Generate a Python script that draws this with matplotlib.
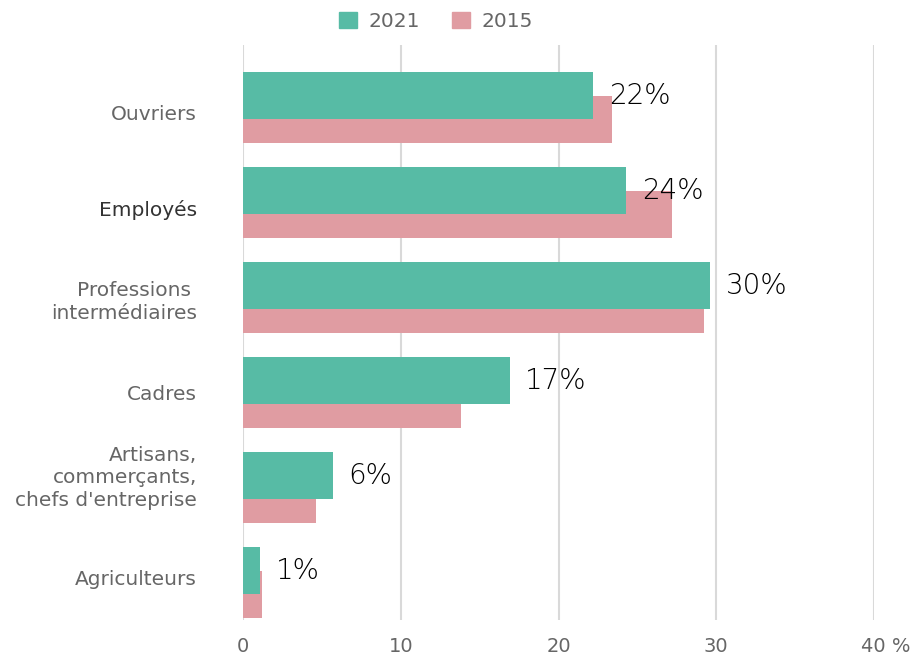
import matplotlib.pyplot as plt
from matplotlib.patches import Patch
from matplotlib.transforms import ScaledTranslation
import numpy as np

# Daten
categories = ["Ouvriers", "Employés", "Professions \nintermédiaires", "Cadres",
              "Artisans,\ncommerçants,\nchefs d'entreprise", "Agriculteurs"]
values_2021 = [22.2, 24.3, 29.6, 16.9, 5.7, 1.1]
values_2015 = [23.4, 27.2, 29.2, 13.8, 4.6, 1.2]
labels_2021 = ["22%", "24%", "30%", "17%", "6%", "1%"]
x_ticks = [0, 10, 20, 30, 40]
x_ticklabels = ["0", "10", "20", "30", "40 %"]

green = "#57BBA5"
pink = "#E09CA2"
grey = "#666666"

fig = plt.figure(figsize=(9.21, 6.61), dpi=100)
ax = fig.add_axes([243 / 921, 41 / 661, (874 - 243) / 921, (616 - 41) / 661])

y = np.arange(len(categories))
h = 0.495
off = 0.126

# Rosa zuerst, grün oben drauf
ax.barh(y + off, values_2015, height=h, color=pink, zorder=2)
ax.barh(y - off, values_2021, height=h, color=green, zorder=3)

for yi, v, lab in zip(y, values_2021, labels_2021):
    ax.text(v + 1.0, yi - off, lab, va="center", ha="left", fontsize=20,
            family="DejaVu Sans", fontweight="light", color="black", zorder=4)

ax.set_xlim(0, 40)
ax.set_ylim(5.39, -0.66)
ax.set_xticks(x_ticks)
ax.set_xticklabels(x_ticklabels, fontsize=14, color=grey)
ax.set_yticks(y)
ax.set_yticklabels(categories, fontsize=14.5, color=grey, linespacing=1.25)
ax.get_yticklabels()[1].set_color("#333333")
ax.tick_params(axis="both", length=0)
ax.tick_params(axis="y", pad=33)
ax.tick_params(axis="x", pad=12)

# kleine vertikale Verschiebungen der Kategorien (Pixel, nach unten positiv)
shifts = [5, 5, 0, 0, -14, -5]
for lbl, dy in zip(ax.get_yticklabels(), shifts):
    lbl.set_transform(lbl.get_transform() + ScaledTranslation(0, -dy / 100, fig.dpi_scale_trans))

# "40 %" etwas nach rechts, wie im Original
last = ax.get_xticklabels()[-1]
last.set_transform(last.get_transform() + ScaledTranslation(12 / 100, 0, fig.dpi_scale_trans))

ax.grid(axis="x", color="#d9d9d9", linewidth=1.5, zorder=0)
ax.set_axisbelow(True)
for s in ax.spines.values():
    s.set_visible(False)

handles = [Patch(color=green, label="2021"), Patch(color=pink, label="2015")]
fig.legend(handles=handles, loc="upper center", bbox_to_anchor=(0.473, 1.01), ncol=2,
           frameon=False, fontsize=14.5, handlelength=0.9, handleheight=0.9,
           columnspacing=1.6, handletextpad=0.55, labelcolor=grey)

plt.savefig("out.png", dpi=100)
